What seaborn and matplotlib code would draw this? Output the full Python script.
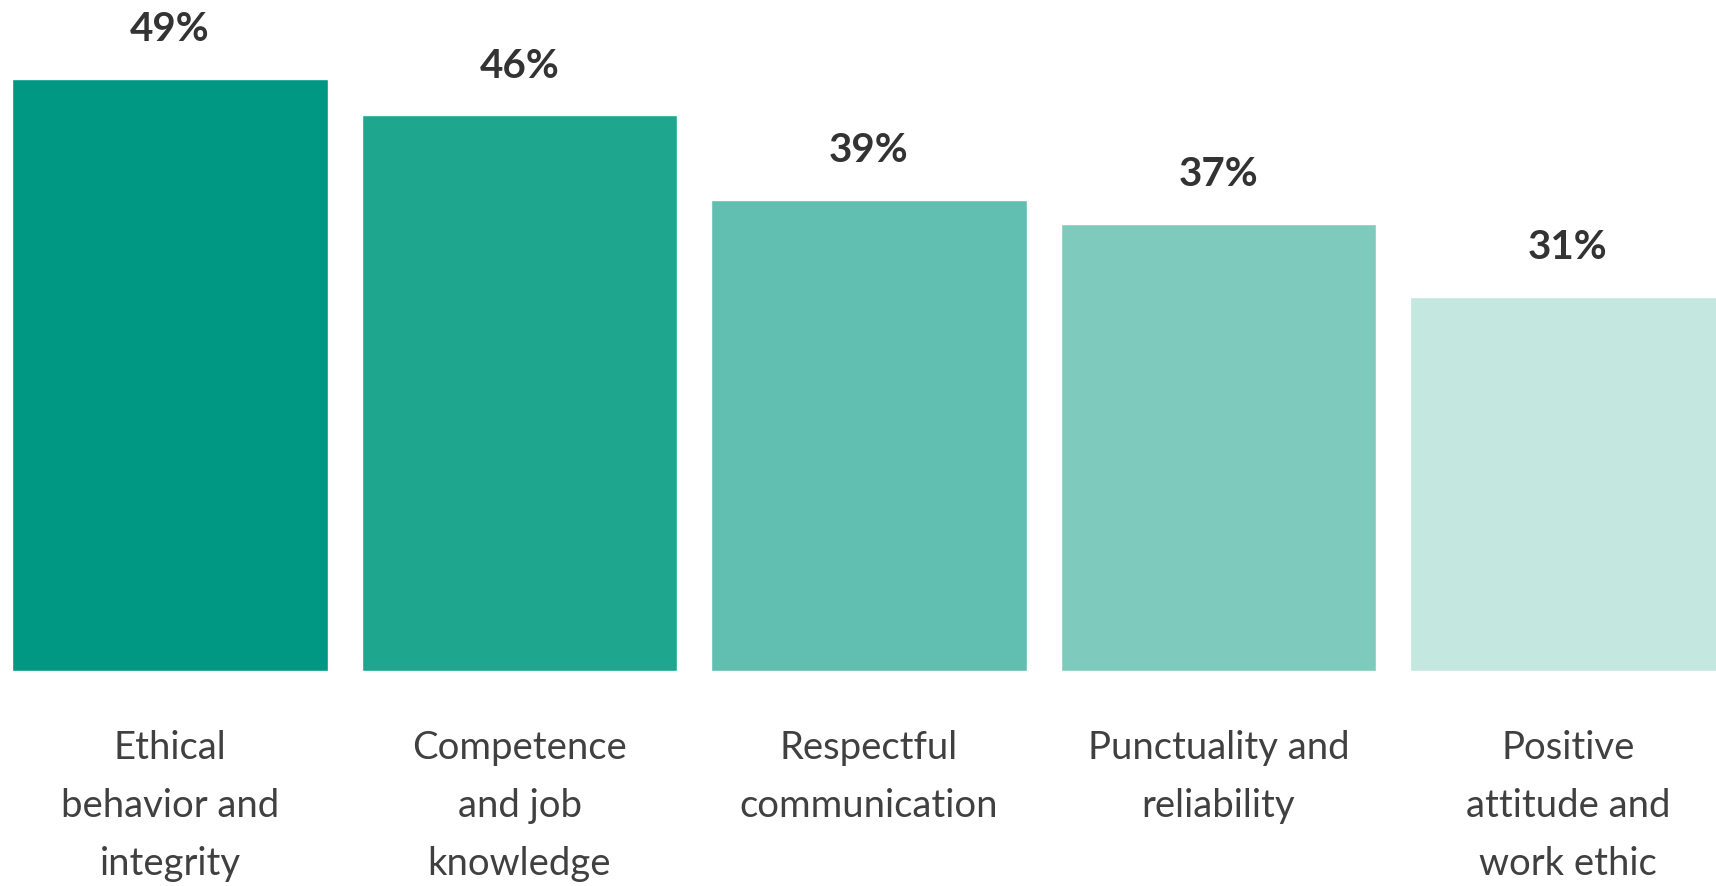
import matplotlib
matplotlib.use("Agg")
import matplotlib.pyplot as plt
import seaborn as sns
import pandas as pd

categories = ["Ethical\nbehavior and\nintegrity", "Competence\nand job\nknowledge",
              "Respectful\ncommunication", "Punctuality and\nreliability",
              "Positive\nattitude and\nwork ethic"]
values = [49, 46, 39, 37, 31]
colors = ["#009882", "#1fa68f", "#60bfb0", "#7ecbbd", "#c4e7e0"]

sns.set_theme(style="white")
plt.rcParams['font.family'] = ['Lato', 'DejaVu Sans']

fig = plt.figure(figsize=(17.16, 8.87), dpi=100)
ax = fig.add_axes([0, (887 - 672) / 887, 1, 672 / 887])

df = pd.DataFrame({"cat": categories, "val": values})
sns.barplot(data=df, x="cat", y="val", hue="cat", palette=colors,
            legend=False, dodge=False, width=0.904, ax=ax, saturation=1)

for i, v in enumerate(values):
    ax.text(i, v + 3.2, f"{v}%", ha="center", va="baseline",
            fontsize=29, fontweight="bold", color="#333333")

ax.set_xlim(-170 / 349.5, (1716 - 170) / 349.5)
ax.set_ylim(0, 672 / 12.08)
ax.set_xlabel("")
ax.set_ylabel("")
ax.set_yticks([])
ax.set_xticks(range(len(categories)))
ax.set_xticklabels(categories, fontsize=27.5, color="#404040", linespacing=1.76,
                   fontweight="normal")
ax.tick_params(axis="x", length=0, pad=42)
for s in ax.spines.values():
    s.set_visible(False)

fig.savefig("out.png", dpi=100)
